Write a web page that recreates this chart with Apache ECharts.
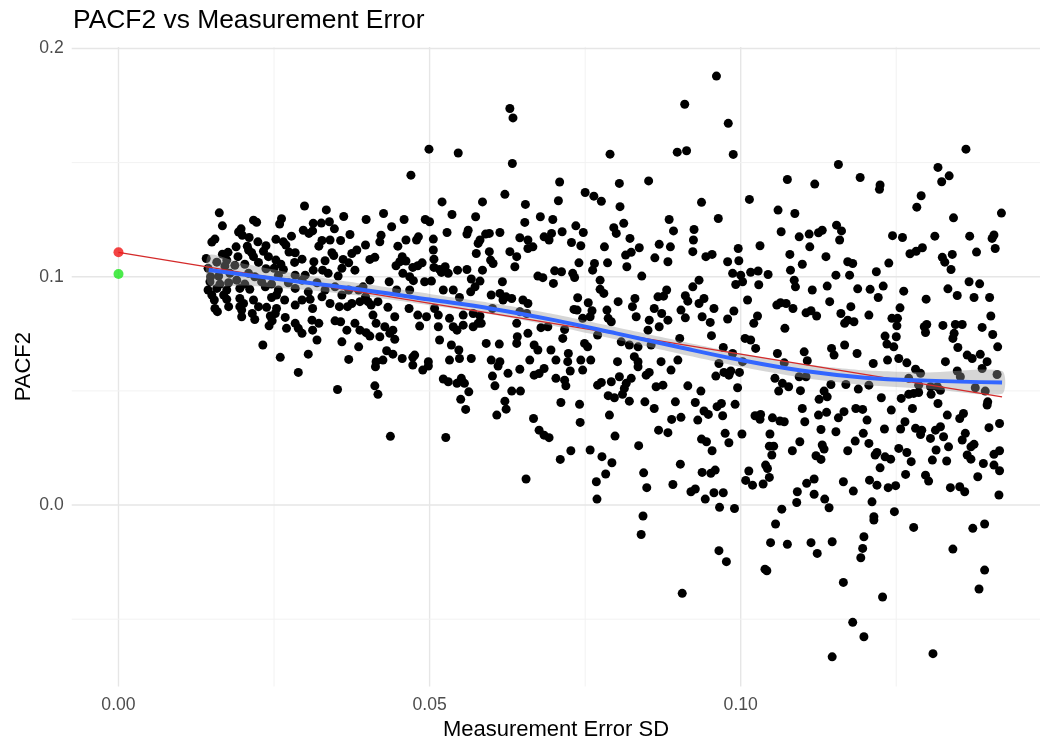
<!DOCTYPE html>
<html>
<head>
<meta charset="utf-8">
<script src="https://cdn.jsdelivr.net/npm/echarts@6/dist/echarts.min.js"></script>
<style>
  html, body { margin: 0; padding: 0; background: #ffffff; }
  #chart { width: 1040px; height: 742px; }
</style>
</head>
<body>
<div id="chart"></div>
<script>
// Simulated PACF at lag 2 against the SD of the added measurement error
const pacfPoints = [
  [0.0299,0.1310],[0.0334,0.1293],[0.0162,0.1280],[0.0362,0.1264],[0.0217,0.1248],[0.0222,0.1239],[0.0262,0.1254],[0.0259,0.1231],[0.0167,0.1223],[0.0197,0.1210],
  [0.0193,0.1196],[0.0313,0.1234],[0.0326,0.1235],[0.0339,0.1241],[0.0347,0.1210],[0.0312,0.1201],[0.0297,0.1204],[0.0306,0.1190],[0.0278,0.1178],[0.0372,0.1185],
  [0.0155,0.1165],[0.0150,0.1152],[0.0199,0.1182],[0.0210,0.1172],[0.0224,0.1153],[0.0237,0.1136],[0.0253,0.1164],[0.0265,0.1153],[0.0269,0.1139],[0.0327,0.1159],
  [0.0340,0.1161],[0.0357,0.1159],[0.0322,0.1134],[0.0189,0.1131],[0.0207,0.1134],[0.0209,0.1117],[0.0176,0.1107],[0.0167,0.1099],[0.0214,0.1105],[0.0217,0.1088],
  [0.0233,0.1112],[0.0241,0.1088],[0.0274,0.1108],[0.0284,0.1105],[0.0295,0.1077],[0.0343,0.1105],[0.0346,0.1093],[0.0383,0.1117],[0.0375,0.1102],[0.0141,0.1080],
  [0.0158,0.1064],[0.0174,0.1073],[0.0192,0.1088],[0.0203,0.1055],[0.0225,0.1063],[0.0253,0.1073],[0.0261,0.1055],[0.0283,0.1063],[0.0314,0.1066],[0.0332,0.1070],
  [0.0361,0.1076],[0.0370,0.1061],[0.0359,0.1037],[0.0380,0.1029],[0.0144,0.1037],[0.0171,0.1047],[0.0187,0.1050],[0.0237,0.1035],[0.0250,0.1037],[0.0265,0.1032],
  [0.0313,0.1029],[0.0328,0.1029],[0.0337,0.1015],[0.0353,0.1003],[0.0148,0.1000],[0.0161,0.1003],[0.0179,0.1015],[0.0209,0.1015],[0.0219,0.1000],[0.0284,0.1007],
  [0.0300,0.1007],[0.0257,0.1007],[0.0147,0.0978],[0.0163,0.0968],[0.0177,0.0974],[0.0190,0.0985],[0.0203,0.0968],[0.0230,0.0978],[0.0246,0.0968],[0.0273,0.0974],
  [0.0295,0.0985],[0.0319,0.0974],[0.0332,0.0942],[0.0348,0.0956],[0.0370,0.0942],[0.0386,0.0942],[0.0144,0.0942],[0.0158,0.0949],[0.0174,0.0942],[0.0195,0.0949],
  [0.0211,0.0945],[0.0236,0.0956],[0.0257,0.0942],[0.0284,0.0949],[0.0305,0.0934],[0.0359,0.0920],[0.0150,0.0920],[0.0154,0.0898],[0.0169,0.0920],[0.0174,0.0901],
  [0.0195,0.0905],[0.0201,0.0883],[0.0217,0.0898],[0.0225,0.0869],[0.0246,0.0909],[0.0254,0.0920],[0.0267,0.0898],[0.0284,0.0876],[0.0295,0.0898],[0.0308,0.0901],
  [0.0312,0.0861],[0.0327,0.0912],[0.0340,0.0883],[0.0355,0.0869],[0.0368,0.0869],[0.0375,0.0883],[0.0388,0.0891],[0.0155,0.0861],[0.0159,0.0847],[0.0177,0.0869],
  [0.0195,0.0869],[0.0198,0.0854],[0.0254,0.0861],[0.0238,0.0866],[0.0219,0.0813],[0.0244,0.0828],[0.0252,0.0839],[0.0268,0.0822],[0.0247,0.0807],[0.0242,0.0785],
  [0.0270,0.0774],[0.0284,0.0796],[0.0289,0.0774],[0.0295,0.0752],[0.0311,0.0810],[0.0322,0.0796],[0.0312,0.0766],[0.0348,0.0807],[0.0357,0.0803],[0.0380,0.0796],
  [0.0388,0.0766],[0.0367,0.0766],[0.0215,0.0839],[0.0198,0.0825],[0.0232,0.0701],[0.0319,0.0723],[0.0305,0.0661],[0.0260,0.0647],[0.0370,0.0638],[0.0386,0.0693],
  [0.0359,0.0715],[0.0289,0.0581],[0.0352,0.0506],
  [0.0629,0.1737],[0.0634,0.1696],[0.0499,0.1559],[0.0546,0.1542],[0.0633,0.1496],[0.0470,0.1445],[0.0621,0.1361],[0.0520,0.1328],[0.0585,0.1328],[0.0654,0.1317],
  [0.0426,0.1277],[0.0536,0.1273],[0.0398,0.1251],[0.0459,0.1251],[0.0574,0.1263],[0.0653,0.1238],[0.0493,0.1251],[0.0500,0.1241],[0.0439,0.1219],[0.0528,0.1194],
  [0.0562,0.1204],[0.0560,0.1187],[0.0590,0.1187],[0.0596,0.1190],[0.0613,0.1194],[0.0645,0.1171],[0.0658,0.1161],[0.0422,0.1182],[0.0420,0.1153],[0.0482,0.1175],
  [0.0479,0.1161],[0.0462,0.1161],[0.0449,0.1134],[0.0506,0.1165],[0.0506,0.1117],[0.0581,0.1161],[0.0578,0.1146],[0.0596,0.1110],[0.0575,0.1102],[0.0629,0.1110],
  [0.0640,0.1088],[0.0658,0.1124],[0.0397,0.1139],[0.0404,0.1076],[0.0412,0.1085],[0.0507,0.1077],[0.0456,0.1088],[0.0452,0.1066],[0.0446,0.1048],[0.0462,0.1069],
  [0.0473,0.1041],[0.0488,0.1061],[0.0481,0.1048],[0.0507,0.1041],[0.0516,0.1032],[0.0525,0.1044],[0.0530,0.1015],[0.0519,0.1019],[0.0545,0.1029],[0.0560,0.1032],
  [0.0585,0.1029],[0.0598,0.1073],[0.0602,0.1058],[0.0637,0.1044],[0.0457,0.1015],[0.0468,0.1000],[0.0474,0.0983],[0.0492,0.0978],[0.0503,0.0981],[0.0567,0.0990],
  [0.0581,0.0981],[0.0617,0.0978],[0.0573,0.0956],[0.0566,0.0934],[0.0599,0.0920],[0.0613,0.0927],[0.0623,0.0912],[0.0618,0.0898],[0.0632,0.0905],[0.0650,0.0898],
  [0.0658,0.0883],[0.0435,0.0978],[0.0404,0.0985],[0.0393,0.0956],[0.0447,0.0942],[0.0468,0.0942],[0.0522,0.0942],[0.0538,0.0942],[0.0548,0.0909],[0.0397,0.0912],
  [0.0401,0.0891],[0.0406,0.0876],[0.0417,0.0891],[0.0433,0.0866],[0.0444,0.0825],[0.0467,0.0861],[0.0481,0.0832],[0.0495,0.0825],[0.0508,0.0861],[0.0514,0.0832],
  [0.0532,0.0818],[0.0554,0.0832],[0.0570,0.0839],[0.0581,0.0828],[0.0601,0.0861],[0.0578,0.0796],[0.0409,0.0832],[0.0414,0.0796],[0.0428,0.0781],[0.0441,0.0766],
  [0.0484,0.0784],[0.0514,0.0781],[0.0538,0.0781],[0.0554,0.0788],[0.0544,0.0766],[0.0570,0.0781],[0.0583,0.0796],[0.0640,0.0796],[0.0645,0.0847],[0.0656,0.0839],
  [0.0398,0.0755],[0.0404,0.0740],[0.0420,0.0737],[0.0436,0.0752],[0.0444,0.0726],[0.0516,0.0723],[0.0535,0.0701],[0.0547,0.0679],[0.0591,0.0708],[0.0612,0.0705],
  [0.0641,0.0737],[0.0640,0.0708],[0.0658,0.0752],[0.0431,0.0676],[0.0441,0.0661],[0.0414,0.0628],[0.0425,0.0635],[0.0456,0.0642],[0.0473,0.0647],[0.0476,0.0657],
  [0.0498,0.0628],[0.0532,0.0635],[0.0548,0.0642],[0.0567,0.0642],[0.0599,0.0635],[0.0613,0.0628],[0.0661,0.0635],
  [0.0413,0.0606],[0.0473,0.0613],[0.0489,0.0591],[0.0498,0.0609],[0.0522,0.0552],[0.0530,0.0540],[0.0551,0.0555],[0.0544,0.0533],[0.0556,0.0533],[0.0563,0.0496],
  [0.0550,0.0463],[0.0558,0.0419],[0.0412,0.0522],[0.0417,0.0485],[0.0437,0.0301],[0.0526,0.0296],[0.0601,0.0565],[0.0610,0.0609],[0.0626,0.0577],[0.0645,0.0595],
  [0.0605,0.0522],[0.0632,0.0499],[0.0646,0.0499],[0.0621,0.0455],[0.0623,0.0420],[0.0608,0.0394],[0.0655,0.0114],
  [0.0910,0.1756],[0.0790,0.1537],[0.0898,0.1546],[0.0913,0.1552],[0.0709,0.1415],[0.0805,0.1409],[0.0852,0.1420],[0.0750,0.1369],[0.0764,0.1353],[0.0776,0.1331],
  [0.0707,0.1333],[0.0806,0.1307],[0.0678,0.1263],[0.0698,0.1251],[0.0735,0.1223],[0.0713,0.1197],[0.0747,0.1194],[0.0796,0.1215],[0.0812,0.1234],[0.0885,0.1251],
  [0.0892,0.1201],[0.0925,0.1207],[0.0684,0.1175],[0.0692,0.1161],[0.0696,0.1190],[0.0728,0.1150],[0.0743,0.1136],[0.0666,0.1131],[0.0781,0.1131],[0.0800,0.1190],
  [0.0822,0.1168],[0.0837,0.1127],[0.0869,0.1142],[0.0887,0.1131],[0.0924,0.1161],[0.0923,0.1110],[0.0862,0.1083],[0.0883,0.1066],[0.0815,0.1095],[0.0824,0.1107],
  [0.0817,0.1044],[0.0786,0.1061],[0.0765,0.1058],[0.0740,0.1061],[0.0762,0.1029],[0.0701,0.1026],[0.0712,0.1022],[0.0674,0.1003],[0.0682,0.0996],[0.0730,0.1015],
  [0.0733,0.0997],[0.0699,0.0971],[0.0774,0.0985],[0.0841,0.1003],[0.0923,0.0956],[0.0774,0.0945],[0.0780,0.0927],[0.0881,0.0942],[0.0867,0.0912],[0.0876,0.0915],
  [0.0911,0.0917],[0.0915,0.0893],[0.0738,0.0908],[0.0755,0.0886],[0.0803,0.0891],[0.0830,0.0905],[0.0732,0.0857],[0.0737,0.0854],[0.0746,0.0818],[0.0761,0.0851],
  [0.0758,0.0825],[0.0785,0.0854],[0.0787,0.0818],[0.0792,0.0803],[0.0832,0.0825],[0.0826,0.0869],[0.0853,0.0810],[0.0861,0.0861],[0.0873,0.0839],[0.0883,0.0810],
  [0.0851,0.0766],[0.0869,0.0781],[0.0904,0.0854],[0.0911,0.0820],[0.0902,0.0730],[0.0690,0.0781],[0.0679,0.0777],[0.0717,0.0769],[0.0714,0.0730],[0.0770,0.0745],
  [0.0808,0.0715],[0.0821,0.0701],[0.0835,0.0693],[0.0856,0.0701],[0.0668,0.0701],[0.0674,0.0679],[0.0695,0.0679],[0.0723,0.0664],[0.0749,0.0708],[0.0754,0.0693],
  [0.0703,0.0635],[0.0722,0.0628],[0.0743,0.0635],[0.0759,0.0635],[0.0802,0.0628],[0.0829,0.0650],[0.0835,0.0628],[0.0872,0.0628],[0.0899,0.0635],
  [0.0668,0.0569],[0.0676,0.0576],[0.0684,0.0598],[0.0703,0.0555],[0.0717,0.0547],[0.0719,0.0522],[0.0726,0.0587],[0.0746,0.0591],[0.0770,0.0525],[0.0776,0.0537],
  [0.0792,0.0540],[0.0805,0.0562],[0.0816,0.0533],[0.0824,0.0555],[0.0813,0.0511],[0.0835,0.0606],[0.0848,0.0569],[0.0853,0.0581],[0.0864,0.0518],[0.0875,0.0525],
  [0.0888,0.0591],[0.0915,0.0522],[0.0787,0.0479],[0.0797,0.0470],[0.0810,0.0485],[0.0821,0.0455],[0.0846,0.0452],[0.0861,0.0423],[0.0895,0.0452],[0.0927,0.0449],
  [0.0711,0.0449],[0.0741,0.0441],[0.0667,0.0379],[0.0742,0.0362],[0.0789,0.0394],[0.0676,0.0328],[0.0684,0.0306],[0.0692,0.0295],[0.0798,0.0302],[0.0868,0.0328],
  [0.0883,0.0317],[0.0889,0.0375],[0.0904,0.0384],[0.0931,0.0372],[0.0836,0.0260],[0.0710,0.0200],[0.0727,0.0238],[0.0758,0.0241],[0.0777,0.0212],[0.0793,0.0185],
  [0.0783,0.0136],[0.0768,0.0102],[0.0769,0.0026],[0.0844,0.0141],[0.0849,0.0076],[0.0903,0.0179],[0.0891,0.0090],[0.0920,0.0058],[0.0927,0.0070],[0.0843,-0.0048],
  [0.0840,-0.0129],[0.0906,-0.0387],
  [0.0961,0.1879],[0.0980,0.1672],[0.0988,0.1536],[0.1157,0.1492],[0.1075,0.1426],[0.1119,0.1406],[0.1192,0.1435],[0.0937,0.1326],[0.1014,0.1339],[0.0964,0.1255],
  [0.1060,0.1292],[0.1087,0.1277],[0.1065,0.1197],[0.1094,0.1175],[0.1110,0.1187],[0.1111,0.1131],[0.1125,0.1193],[0.1131,0.1204],[0.1154,0.1226],[0.1162,0.1201],
  [0.1159,0.1161],[0.1031,0.1136],[0.0996,0.1124],[0.0944,0.1088],[0.0954,0.1098],[0.0979,0.1066],[0.0997,0.1070],[0.1079,0.1098],[0.1137,0.1088],[0.1099,0.1055],
  [0.1080,0.1029],[0.1172,0.1066],[0.1180,0.1058],[0.0987,0.1015],[0.1000,0.1007],[0.1016,0.1020],[0.1028,0.1025],[0.1044,0.1010],[0.0992,0.0966],[0.1003,0.0978],
  [0.1029,0.0965],[0.0933,0.0985],[0.1086,0.0985],[0.1088,0.0956],[0.1115,0.0942],[0.1139,0.0959],[0.1153,0.1007],[0.1175,0.1007],[0.1188,0.0947],[0.1011,0.0898],
  [0.1058,0.0876],[0.1064,0.0886],[0.1073,0.0883],[0.1084,0.0861],[0.1105,0.0842],[0.1113,0.0851],[0.1122,0.0828],[0.1143,0.0891],[0.1161,0.0839],[0.1177,0.0869],
  [0.1167,0.0796],[0.1172,0.0810],[0.1182,0.0803],[0.0941,0.0905],[0.0933,0.0883],[0.0957,0.0861],[0.0938,0.0825],[0.0951,0.0800],[0.0979,0.0815],[0.0989,0.0850],
  [0.1021,0.0796],[0.1027,0.0828],[0.0953,0.0742],[0.1071,0.0774],[0.1007,0.0730],[0.1016,0.0723],[0.1024,0.0686],[0.0972,0.0690],[0.0987,0.0664],[0.1059,0.0664],
  [0.1102,0.0671],[0.1146,0.0686],[0.1150,0.0657],[0.1167,0.0701],[0.1187,0.0664],[0.1107,0.0632],[0.0965,0.0620],[0.1003,0.0628],[0.1070,0.0623],
  [0.0960,0.0565],[0.0973,0.0581],[0.0984,0.0587],[0.0981,0.0569],[0.0998,0.0581],[0.0995,0.0514],[0.0936,0.0499],[0.0941,0.0412],[0.0948,0.0397],[0.0962,0.0431],
  [0.0969,0.0445],[0.0971,0.0391],[0.0991,0.0441],[0.0975,0.0314],[0.0981,0.0273],[0.1002,0.0311],[0.0937,0.0289],[0.0945,0.0277],[0.0954,0.0238],[0.0938,0.0143],
  [0.0952,0.0139],[0.0959,0.0153],[0.0943,0.0026],[0.0957,0.0054],[0.0972,0.0054],[0.0966,-0.0010],[0.0990,-0.0015],[0.0965,-0.0200],[0.0977,-0.0248],[0.1023,0.0391],
  [0.1032,0.0397],[0.1031,0.0376],[0.1051,0.0382],[0.1063,0.0368],[0.1070,0.0365],[0.1047,0.0311],[0.1046,0.0258],[0.1053,0.0258],[0.1050,0.0219],[0.1040,0.0175],
  [0.1043,0.0160],[0.1046,0.0121],[0.1013,0.0149],[0.1008,0.0108],[0.1019,0.0087],[0.1036,0.0092],[0.1061,0.0499],[0.1067,0.0533],[0.1077,0.0518],[0.1055,0.0555],
  [0.1094,0.0562],[0.1105,0.0562],[0.1096,0.0501],[0.1099,0.0423],[0.1103,0.0365],[0.1095,0.0277],[0.1083,0.0238],[0.1125,0.0394],[0.1126,0.0463],[0.1134,0.0499],
  [0.1139,0.0474],[0.1138,0.0406],[0.1145,0.0528],[0.1169,0.0528],[0.1189,0.0508],[0.1157,0.0382],[0.1166,0.0409],[0.1185,0.0423],[0.1196,0.0419],[0.1153,0.0321],
  [0.1129,0.0331],[0.1131,0.0263],[0.1134,0.0245],[0.1121,0.0216],[0.1129,0.0200],[0.1172,0.0238],[0.1184,0.0280],[0.1197,0.0314],[0.1165,0.0102],[0.1181,0.0061],
  [0.1106,0.0095],[0.1118,0.0114],[0.1091,0.0058],[0.1118,0.0047],[0.1090,0.0011],[0.1135,0.0026],[0.1142,-0.0012],[0.1066,-0.0018],[0.1056,-0.0083],[0.1048,-0.0165],
  [0.1075,-0.0172],[0.1113,-0.0165],[0.1123,-0.0212],[0.1147,-0.0161],[0.1198,-0.0139],[0.1196,-0.0190],[0.1193,-0.0231],[0.1039,-0.0281],[0.1042,-0.0288],[0.1165,-0.0339],
  [0.1180,-0.0514],[0.1198,-0.0577],[0.1147,-0.0665],
  [0.1362,0.1559],[0.1317,0.1479],[0.1335,0.1442],[0.1323,0.1416],[0.1224,0.1402],[0.1223,0.1383],[0.1290,0.1355],[0.1283,0.1305],[0.1342,0.1258],[0.1419,0.1279],
  [0.1244,0.1180],[0.1260,0.1172],[0.1312,0.1178],[0.1368,0.1178],[0.1407,0.1183],[0.1404,0.1168],[0.1409,0.1124],[0.1272,0.1101],[0.1282,0.1112],[0.1292,0.1127],
  [0.1324,0.1085],[0.1328,0.1064],[0.1340,0.1098],[0.1338,0.1032],[0.1379,0.1108],[0.1238,0.1060],[0.1218,0.1022],[0.1367,0.0978],[0.1384,0.0969],[0.1333,0.0947],
  [0.1348,0.0918],[0.1375,0.0909],[0.1400,0.0909],[0.1208,0.0945],[0.1229,0.0959],[0.1221,0.0909],[0.1262,0.0937],[0.1298,0.0902],[0.1256,0.0864],[0.1206,0.0832],
  [0.1243,0.0818],[0.1252,0.0818],[0.1251,0.0785],[0.1295,0.0781],[0.1299,0.0791],[0.1297,0.0756],[0.1325,0.0787],[0.1345,0.0791],[0.1356,0.0791],[0.1343,0.0752],
  [0.1341,0.0730],[0.1388,0.0778],[0.1402,0.0828],[0.1405,0.0747],[0.1232,0.0740],[0.1250,0.0737],[0.1235,0.0705],[0.1246,0.0693],[0.1349,0.0690],[0.1413,0.0693],
  [0.1364,0.0657],[0.1372,0.0642],[0.1385,0.0660],[0.1396,0.0628],[0.1329,0.0628],[0.1236,0.0635],[0.1254,0.0642],[0.1267,0.0623],[0.1213,0.0620],
  [0.1281,0.0595],[0.1289,0.0577],[0.1348,0.0587],[0.1353,0.0562],[0.1388,0.0598],[0.1412,0.0572],[0.1206,0.0525],[0.1270,0.0555],[0.1286,0.0525],[0.1305,0.0518],
  [0.1316,0.0518],[0.1321,0.0503],[0.1377,0.0514],[0.1393,0.0499],[0.1397,0.0452],[0.1396,0.0438],[0.1226,0.0470],[0.1258,0.0467],[0.1270,0.0485],[0.1278,0.0489],
  [0.1286,0.0493],[0.1306,0.0485],[0.1317,0.0445],[0.1242,0.0416],[0.1276,0.0423],[0.1332,0.0394],[0.1352,0.0379],[0.1358,0.0401],[0.1203,0.0372],[0.1231,0.0333],
  [0.1257,0.0333],[0.1264,0.0365],[0.1281,0.0336],[0.1291,0.0328],[0.1289,0.0309],[0.1305,0.0292],[0.1313,0.0328],[0.1321,0.0343],[0.1326,0.0299],[0.1361,0.0314],
  [0.1356,0.0285],[0.1375,0.0266],[0.1370,0.0255],[0.1399,0.0339],[0.1416,0.0357],[0.1206,0.0270],[0.1219,0.0230],[0.1216,0.0219],[0.1232,0.0211],[0.1241,0.0201],
  [0.1254,0.0248],[0.1267,0.0230],[0.1274,0.0190],[0.1308,0.0197],[0.1314,0.0241],[0.1334,0.0255],[0.1331,0.0193],[0.1364,0.0219],[0.1370,0.0201],[0.1390,0.0182],
  [0.1407,0.0222],[0.1416,0.0238],[0.1407,0.0175],[0.1416,0.0150],[0.1224,0.0163],[0.1265,0.0134],[0.1297,0.0131],[0.1302,0.0105],[0.1381,0.0124],[0.1207,0.0109],
  [0.1219,0.0087],[0.1237,0.0076],[0.1249,0.0085],[0.1337,0.0076],[0.1352,0.0080],[0.1360,0.0058],[0.1415,0.0044],[0.1211,0.0014],[0.1214,-0.0051],[0.1214,-0.0066],
  [0.1247,-0.0029],[0.1278,-0.0098],[0.1373,-0.0102],[0.1392,-0.0083],[0.1341,-0.0193],[0.1392,-0.0285],[0.1383,-0.0368],[0.1228,-0.0403],[0.1309,-0.0651]
];

// Loess smooth and its confidence half-width
const smoothSd   = [0.0145, 0.020, 0.030, 0.040, 0.050, 0.060, 0.070, 0.080, 0.090, 0.100, 0.110, 0.120, 0.130, 0.142];
const smoothPacf = [0.1030, 0.1010, 0.0975, 0.0940, 0.0900, 0.0860, 0.0810, 0.0752, 0.0692, 0.0635, 0.0588, 0.0558, 0.0545, 0.0537];
const smoothSe   = [0.0065, 0.0048, 0.0032, 0.0027, 0.0025, 0.0025, 0.0026, 0.0027, 0.0028, 0.0029, 0.0030, 0.0032, 0.0036, 0.0050];

// Straight trend line (red) and the two reference values at zero error
const trendSd   = [0, 0.142];
const trendPacf = [0.1107, 0.0474];
const truePacf  = [0, 0.1107];
const noisePacf = [0, 0.1012];

// Axis breaks
const xBreaks = [0, 0.05, 0.10];
const xMinorBreaks = [0.025, 0.075, 0.125];
const yBreaks = [0, 0.1, 0.2];
const yMinorBreaks = [-0.05, 0.05, 0.15];

const FONT = '"Liberation Sans", Arial, sans-serif';
const chart = echarts.init(document.getElementById('chart'), null, { renderer: 'canvas' });

const gridLines = [];
xBreaks.forEach(v => gridLines.push([v, 1, 1]));
xMinorBreaks.forEach(v => gridLines.push([v, 1, 0]));
yBreaks.forEach(v => gridLines.push([v, 0, 1]));
yMinorBreaks.forEach(v => gridLines.push([v, 0, 0]));

chart.setOption({
  backgroundColor: '#ffffff',
  animation: false,
  grid: { left: 71.7, top: 46.9, width: 968.3, height: 639.6, containLabel: false },
  xAxis: {
    type: 'value', min: -0.00752, max: 0.1481,
    axisLine: { show: false }, axisTick: { show: false }, splitLine: { show: false },
    axisLabel: {
      customValues: xBreaks, margin: 10,
      formatter: v => v.toFixed(2),
      color: '#4d4d4d', fontSize: 17.6, fontFamily: FONT
    }
  },
  yAxis: {
    type: 'value', min: -0.0795, max: 0.2007,
    axisLine: { show: false }, axisTick: { show: false }, splitLine: { show: false },
    axisLabel: {
      customValues: yBreaks, margin: 8,
      formatter: v => v.toFixed(1),
      color: '#4d4d4d', fontSize: 17.6, fontFamily: FONT
    }
  },
  graphic: [
    { type: 'text', x: 73, y: 21.2, z: 10,
      style: { text: 'PACF2 vs Measurement Error', fill: '#000', font: '26.4px ' + FONT, textAlign: 'left', textVerticalAlign: 'middle' } },
    { type: 'text', x: 556, y: 729.6, z: 10,
      style: { text: 'Measurement Error SD', fill: '#000', font: '22px ' + FONT, textAlign: 'center', textVerticalAlign: 'middle' } },
    { type: 'text', x: 24, y: 366.7, rotation: Math.PI / 2, z: 10,
      style: { text: 'PACF2', fill: '#000', font: '22px ' + FONT, textAlign: 'center', textVerticalAlign: 'middle' } }
  ],
  series: [
    {
      // panel grid lines
      type: 'custom', z: 0, silent: true, clip: false,
      data: gridLines,
      encode: { x: 0 },
      renderItem: function (params, api) {
        const v = api.value(0), vertical = api.value(1), major = api.value(2);
        const cs = params.coordSys;
        const style = { stroke: major ? '#e6e6e6' : '#f2f2f2', lineWidth: major ? 1.4 : 1 };
        if (vertical) {
          const px = api.coord([v, 0])[0];
          return { type: 'line', shape: { x1: px, y1: cs.y, x2: px, y2: cs.y + cs.height }, style };
        }
        const py = api.coord([0, v])[1];
        return { type: 'line', shape: { x1: cs.x, y1: py, x2: cs.x + cs.width, y2: py }, style };
      }
    },
    {
      type: 'scatter', z: 2, silent: true,
      data: pacfPoints,
      symbol: 'circle', symbolSize: 9,
      itemStyle: { color: '#000000', opacity: 1 }
    },
    {
      // confidence ribbon of the loess smooth
      type: 'custom', z: 3, silent: true,
      data: [[smoothSd[0], smoothPacf[0]]],
      renderItem: function (params, api) {
        const upper = smoothSd.map((x, i) => api.coord([x, smoothPacf[i] + smoothSe[i]]));
        const lower = smoothSd.map((x, i) => api.coord([x, smoothPacf[i] - smoothSe[i]])).reverse();
        return { type: 'polygon', shape: { points: upper.concat(lower), smooth: 0.25 },
                 style: { fill: 'rgba(153,153,153,0.4)' } };
      }
    },
    {
      type: 'line', z: 4, silent: true,
      data: trendSd.map((x, i) => [x, trendPacf[i]]),
      showSymbol: false,
      lineStyle: { color: '#d42a2a', width: 1.4 }
    },
    {
      type: 'line', z: 5, silent: true,
      data: smoothSd.map((x, i) => [x, smoothPacf[i]]),
      smooth: 0.4, showSymbol: false,
      lineStyle: { color: '#3366ff', width: 4 }
    },
    {
      type: 'scatter', z: 6, silent: true,
      data: [truePacf], symbolSize: 10,
      itemStyle: { color: '#f01414' }
    },
    {
      type: 'scatter', z: 6, silent: true,
      data: [noisePacf], symbolSize: 10,
      itemStyle: { color: '#1ee61e' }
    }
  ]
});
</script>
</body>
</html>
